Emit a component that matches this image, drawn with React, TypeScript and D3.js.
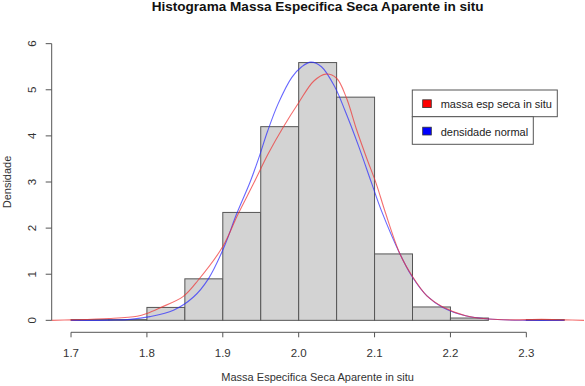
import React from 'react'
import * as d3 from 'd3'

// histogram bins (left edges, width 0.05) and densities
const binStarts = [1.7, 1.75, 1.8, 1.85, 1.9, 1.95, 2.0, 2.05, 2.1, 2.15, 2.2, 2.25, 2.3]
const binDensity = [0.015, 0.015, 0.28, 0.9, 2.34, 4.2, 5.59, 4.84, 1.44, 0.29, 0.05, 0, 0.015]
const binWidth = 0.05

// kernel density (red)
const kdeX = [1.674, 1.7, 1.75, 1.787, 1.8, 1.817, 1.848, 1.868, 1.9, 1.92, 1.94, 1.96, 1.98, 2.0, 2.02, 2.036, 2.05, 2.063, 2.076, 2.09, 2.1025, 2.114, 2.1335, 2.15, 2.169, 2.19, 2.22, 2.25, 2.28, 2.32, 2.35, 2.376]
const kdeY = [0.0, 0.01, 0.04, 0.09, 0.15, 0.27, 0.52, 0.88, 1.6, 2.3, 2.95, 3.62, 4.2, 4.72, 5.19, 5.34, 5.25, 4.82, 4.15, 3.5, 2.95, 2.35, 1.44, 0.95, 0.53, 0.29, 0.1, 0.03, 0.01, 0.02, 0.01, 0.0]

// normal density (blue)
const normX = [1.7, 1.75, 1.778, 1.804, 1.835, 1.861, 1.881, 1.902, 1.918, 1.936, 1.947, 1.959, 1.973, 1.991, 2.004, 2.016, 2.03, 2.048, 2.061, 2.0785, 2.096, 2.109, 2.1335, 2.149, 2.169, 2.19, 2.22, 2.25, 2.3, 2.35]
const normY = [0.0, 0.005, 0.02, 0.08, 0.22, 0.5, 0.9, 1.6, 2.3, 3.0, 3.5, 4.1, 4.7, 5.27, 5.5, 5.6, 5.5, 5.05, 4.55, 3.8, 2.98, 2.38, 1.44, 0.96, 0.53, 0.28, 0.1, 0.03, 0.0, 0.0]

const xTicks = [1.7, 1.8, 1.9, 2.0, 2.1, 2.2, 2.3]
const yTicks = [0, 1, 2, 3, 4, 5, 6]

const legendItems = [
  { label: 'massa esp seca in situ', color: '#ff0000' },
  { label: 'densidade normal', color: '#0000ff' },
]

const title = 'Histograma Massa Especifica Seca Aparente in situ'
const xTitle = 'Massa Especifica Seca Aparente in situ'
const yTitle = 'Densidade'

const W = 585
const H = 386
const font = '"Liberation Sans", Arial, sans-serif'

const App = () => {
  const x = d3.scaleLinear().domain([1.674, 2.376]).range([51.3, 584])
  const y = d3.scaleLinear().domain([-0.24, 6.24]).range([331.4, 32.6])

  const line = d3
    .line<[number, number]>()
    .x((d) => x(d[0]))
    .y((d) => y(d[1]))
    .curve(d3.curveCatmullRom.alpha(0.5))

  const kde = kdeX.map((v, i) => [v, kdeY[i]] as [number, number])
  const norm = normX.map((v, i) => [v, normY[i]] as [number, number])

  const [x0, x1] = x.range()
  const [yb, yt] = y.range()
  const axisY = 332.3
  const axisX = 51.7

  return (
    <div style={{ position: 'fixed', left: 0, top: 0 }}>
      <svg width={W} height={H} style={{ display: 'block', background: '#fff' }} fontFamily={font}>
        <defs>
          <clipPath id="plot">
            <rect x={x0} y={yt} width={x1 - x0} height={yb - yt} />
          </clipPath>
        </defs>

        <text
          x={(x0 + x1) / 2}
          y={11}
          textAnchor="middle"
          fontWeight="bold"
          fontSize="12"
          textLength={332}
          lengthAdjust="spacingAndGlyphs"
          fill="#111"
        >
          {title}
        </text>

        {binStarts.map((b, i) => (
          <rect
            key={i}
            x={x(b)}
            y={y(binDensity[i])}
            width={x(b + binWidth) - x(b)}
            height={y(0) - y(binDensity[i])}
            fill="#d3d3d3"
            stroke="#555"
            strokeWidth="1"
          />
        ))}

        <g clipPath="url(#plot)" fill="none" strokeWidth="1.1">
          <path d={line(norm) ?? ''} stroke="rgba(40,40,255,0.7)" />
          <path d={line(kde) ?? ''} stroke="rgba(240,50,50,0.7)" />
        </g>

        {/* x axis */}
        <g stroke="#555" strokeWidth="1">
          <line x1={x(xTicks[0])} x2={x(xTicks[xTicks.length - 1])} y1={axisY} y2={axisY} />
          {xTicks.map((t) => (
            <line key={t} x1={x(t)} x2={x(t)} y1={axisY} y2={axisY + 5} />
          ))}
        </g>
        {xTicks.map((t) => (
          <text key={t} x={x(t)} y={356.7} textAnchor="middle" fontSize="11.5" fill="#333">
            {t.toFixed(1)}
          </text>
        ))}

        {/* y axis */}
        <g stroke="#555" strokeWidth="1">
          <line x1={axisX} x2={axisX} y1={y(yTicks[0])} y2={y(yTicks[yTicks.length - 1])} />
          {yTicks.map((t) => (
            <line key={t} x1={axisX - 6} x2={axisX} y1={y(t)} y2={y(t)} />
          ))}
        </g>
        {yTicks.map((t) => (
          <text
            key={t}
            transform={`translate(35.5 ${y(t)}) rotate(-90)`}
            textAnchor="middle"
            fontSize="11.5"
            fill="#333"
          >
            {t}
          </text>
        ))}

        <text x={(x0 + x1) / 2} y={380.7} textAnchor="middle" fontSize="11" fill="#333">
          {xTitle}
        </text>
        <text transform={`translate(10.5 ${(yb + yt) / 2}) rotate(-90)`} textAnchor="middle" fontSize="11" fill="#333">
          {yTitle}
        </text>

        {/* legend */}
        <g>
          <rect x={412.3} y={90} width={145} height={26.7} fill="#fff" stroke="#555" />
          <rect x={412.3} y={116.7} width={121} height={27.6} fill="#fff" stroke="#555" />
          {legendItems.map((d, i) => (
            <g key={d.label} transform={`translate(0 ${i * 27.4})`}>
              <rect x={422.7} y={99.8} width={8.6} height={7.8} fill={d.color} stroke="#333" strokeWidth="0.8" />
              <text x={440.7} y={108.3} fontSize="11" fill="#222">
                {d.label}
              </text>
            </g>
          ))}
        </g>
      </svg>
    </div>
  )
}

export default App
